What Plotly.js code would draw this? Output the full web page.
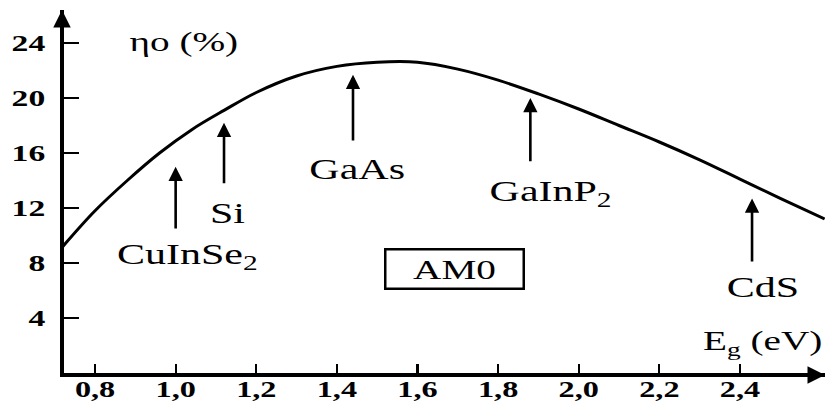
<!DOCTYPE html>
<html>
<head>
<meta charset="utf-8">
<script src="https://cdn.plot.ly/plotly-3.0.1.min.js"></script>
<style>
  html, body { margin: 0; padding: 0; background: #fff; }
  #chart { width: 827px; height: 412px; }
</style>
</head>
<body>
<div id="chart"></div>
<script>
// Ideal conversion efficiency vs. band gap under AM0 illumination
const bandGapEV = [0.72, 0.80, 0.88, 0.96, 1.04, 1.12, 1.20, 1.30, 1.40, 1.50, 1.60,
                   1.70, 1.80, 1.90, 2.00, 2.10, 2.20, 2.30, 2.40, 2.50, 2.61];
const efficiencyPct = [9.2, 11.8, 14.0, 16.0, 17.7, 19.1, 20.4, 21.6, 22.3, 22.6, 22.6,
                       22.1, 21.3, 20.3, 19.2, 18.0, 16.8, 15.5, 14.1, 12.7, 11.2];

// Semiconductors marked on the curve and their band gaps (eV)
const materials = ['CuInSe<sub>2</sub>', 'Si', 'GaAs', 'GaInP<sub>2</sub>', 'CdS'];
const materialGap = [1.00, 1.12, 1.44, 1.88, 2.43];

const spectrumLabel = 'AM0';

const xTickVals = [0.8, 1.0, 1.2, 1.4, 1.6, 1.8, 2.0, 2.2, 2.4];
const yTickVals = [4, 8, 12, 16, 20, 24];

const yAxisLabel = 'ηo (%)';
const xAxisLabel = 'E<sub>g</sub> (eV)';

// Arrow placement (tip / tail heights in % units) and label anchors
const arrowTip  = [15.0, 18.2, 21.7, 20.0, 12.7];
const arrowTail = [10.4, 13.7, 16.8, 15.3, 8.0];
const labelPos  = [[1.03, 8.5], [1.128, 11.7], [1.45, 14.9], [1.93, 13.1], [2.458, 6.3]];

const serif = "'Liberation Serif', 'Times New Roman', Times, serif";
const ink = '#000';

const annotations = [];

materials.forEach((name, i) => {
  annotations.push({
    xref: 'x', yref: 'y', axref: 'x', ayref: 'y',
    x: materialGap[i], y: arrowTip[i],
    ax: materialGap[i], ay: arrowTail[i],
    text: '', showarrow: true,
    arrowhead: 2, arrowsize: 1.1, arrowwidth: 2.6, arrowcolor: ink,
    standoff: 0, startstandoff: 0
  });
  annotations.push({
    xref: 'x', yref: 'y',
    x: labelPos[i][0], y: labelPos[i][1],
    text: name, showarrow: false,
    xanchor: 'center', yanchor: 'middle',
    font: { family: serif, size: 30, color: ink }
  });
});

// boxed spectrum tag
annotations.push({
  xref: 'x', yref: 'y', x: 1.693, y: 7.6,
  text: spectrumLabel, showarrow: false,
  xanchor: 'center', yanchor: 'middle',
  width: 134, height: 35,
  bordercolor: ink, borderwidth: 2.5, borderpad: 1,
  font: { family: serif, size: 28, color: ink }
});

// axis captions
annotations.push({
  xref: 'x', yref: 'y', x: 1.02, y: 24.1,
  text: yAxisLabel, showarrow: false,
  xanchor: 'center', yanchor: 'middle',
  font: { family: serif, size: 28, color: ink }
});
annotations.push({
  xref: 'x', yref: 'y', x: 2.455, y: 2.2,
  text: xAxisLabel, showarrow: false,
  xanchor: 'center', yanchor: 'middle',
  font: { family: serif, size: 28, color: ink }
});

// arrowheads at the ends of both axes
annotations.push({
  xref: 'paper', yref: 'paper', x: 1.0, y: -0.0055,
  ax: -24, ay: 0, text: '', showarrow: true,
  arrowhead: 2, arrowsize: 1.0, arrowwidth: 3.5, arrowcolor: ink, standoff: 0
});
annotations.push({
  xref: 'paper', yref: 'paper', x: -0.0026, y: 1.0,
  ax: 0, ay: 24, text: '', showarrow: true,
  arrowhead: 2, arrowsize: 1.0, arrowwidth: 3.5, arrowcolor: ink, standoff: 0
});

const trace = {
  x: bandGapEV, y: efficiencyPct,
  type: 'scatter', mode: 'lines',
  line: { color: ink, width: 3, shape: 'spline', smoothing: 1 },
  hoverinfo: 'skip'
};

const layout = {
  width: 827, height: 412,
  margin: { l: 64, r: 2, t: 10, b: 39 },
  paper_bgcolor: '#fff', plot_bgcolor: '#fff',
  separators: ',.',
  showlegend: false,
  font: { family: serif, color: ink },
  xaxis: {
    range: [0.723, 2.611],
    tickvals: xTickVals, tickformat: '.1f',
    ticks: 'inside', ticklen: 9, tickwidth: 2.2, tickcolor: ink,
    showline: true, linewidth: 4, linecolor: ink,
    showgrid: false, zeroline: false,
    tickfont: { family: serif, size: 23, color: ink, weight: 'bold' },
    ticklabelstandoff: -8
  },
  yaxis: {
    range: [0, 26.4],
    tickvals: yTickVals,
    ticks: 'inside', ticklen: 15, tickwidth: 2.2, tickcolor: ink,
    showline: true, linewidth: 4, linecolor: ink,
    showgrid: false, zeroline: false,
    tickfont: { family: serif, size: 24, color: ink, weight: 'bold' },
    ticklabelstandoff: 10
  },
  annotations: annotations
};

// widen the serif lettering so it reads like the printed figure
function widenText(gd, factor) {
  gd.querySelectorAll('.annotation-text, .xtick text, .ytick text').forEach(t => {
    const len = t.getComputedTextLength();
    if (len > 0) {
      t.setAttribute('textLength', (len * factor).toFixed(1));
      t.setAttribute('lengthAdjust', 'spacingAndGlyphs');
    }
  });
}

const gd = document.getElementById('chart');
Plotly.newPlot(gd, [trace], layout, { staticPlot: true, displayModeBar: false })
  .then(() => widenText(gd, 1.4));
</script>
</body>
</html>
